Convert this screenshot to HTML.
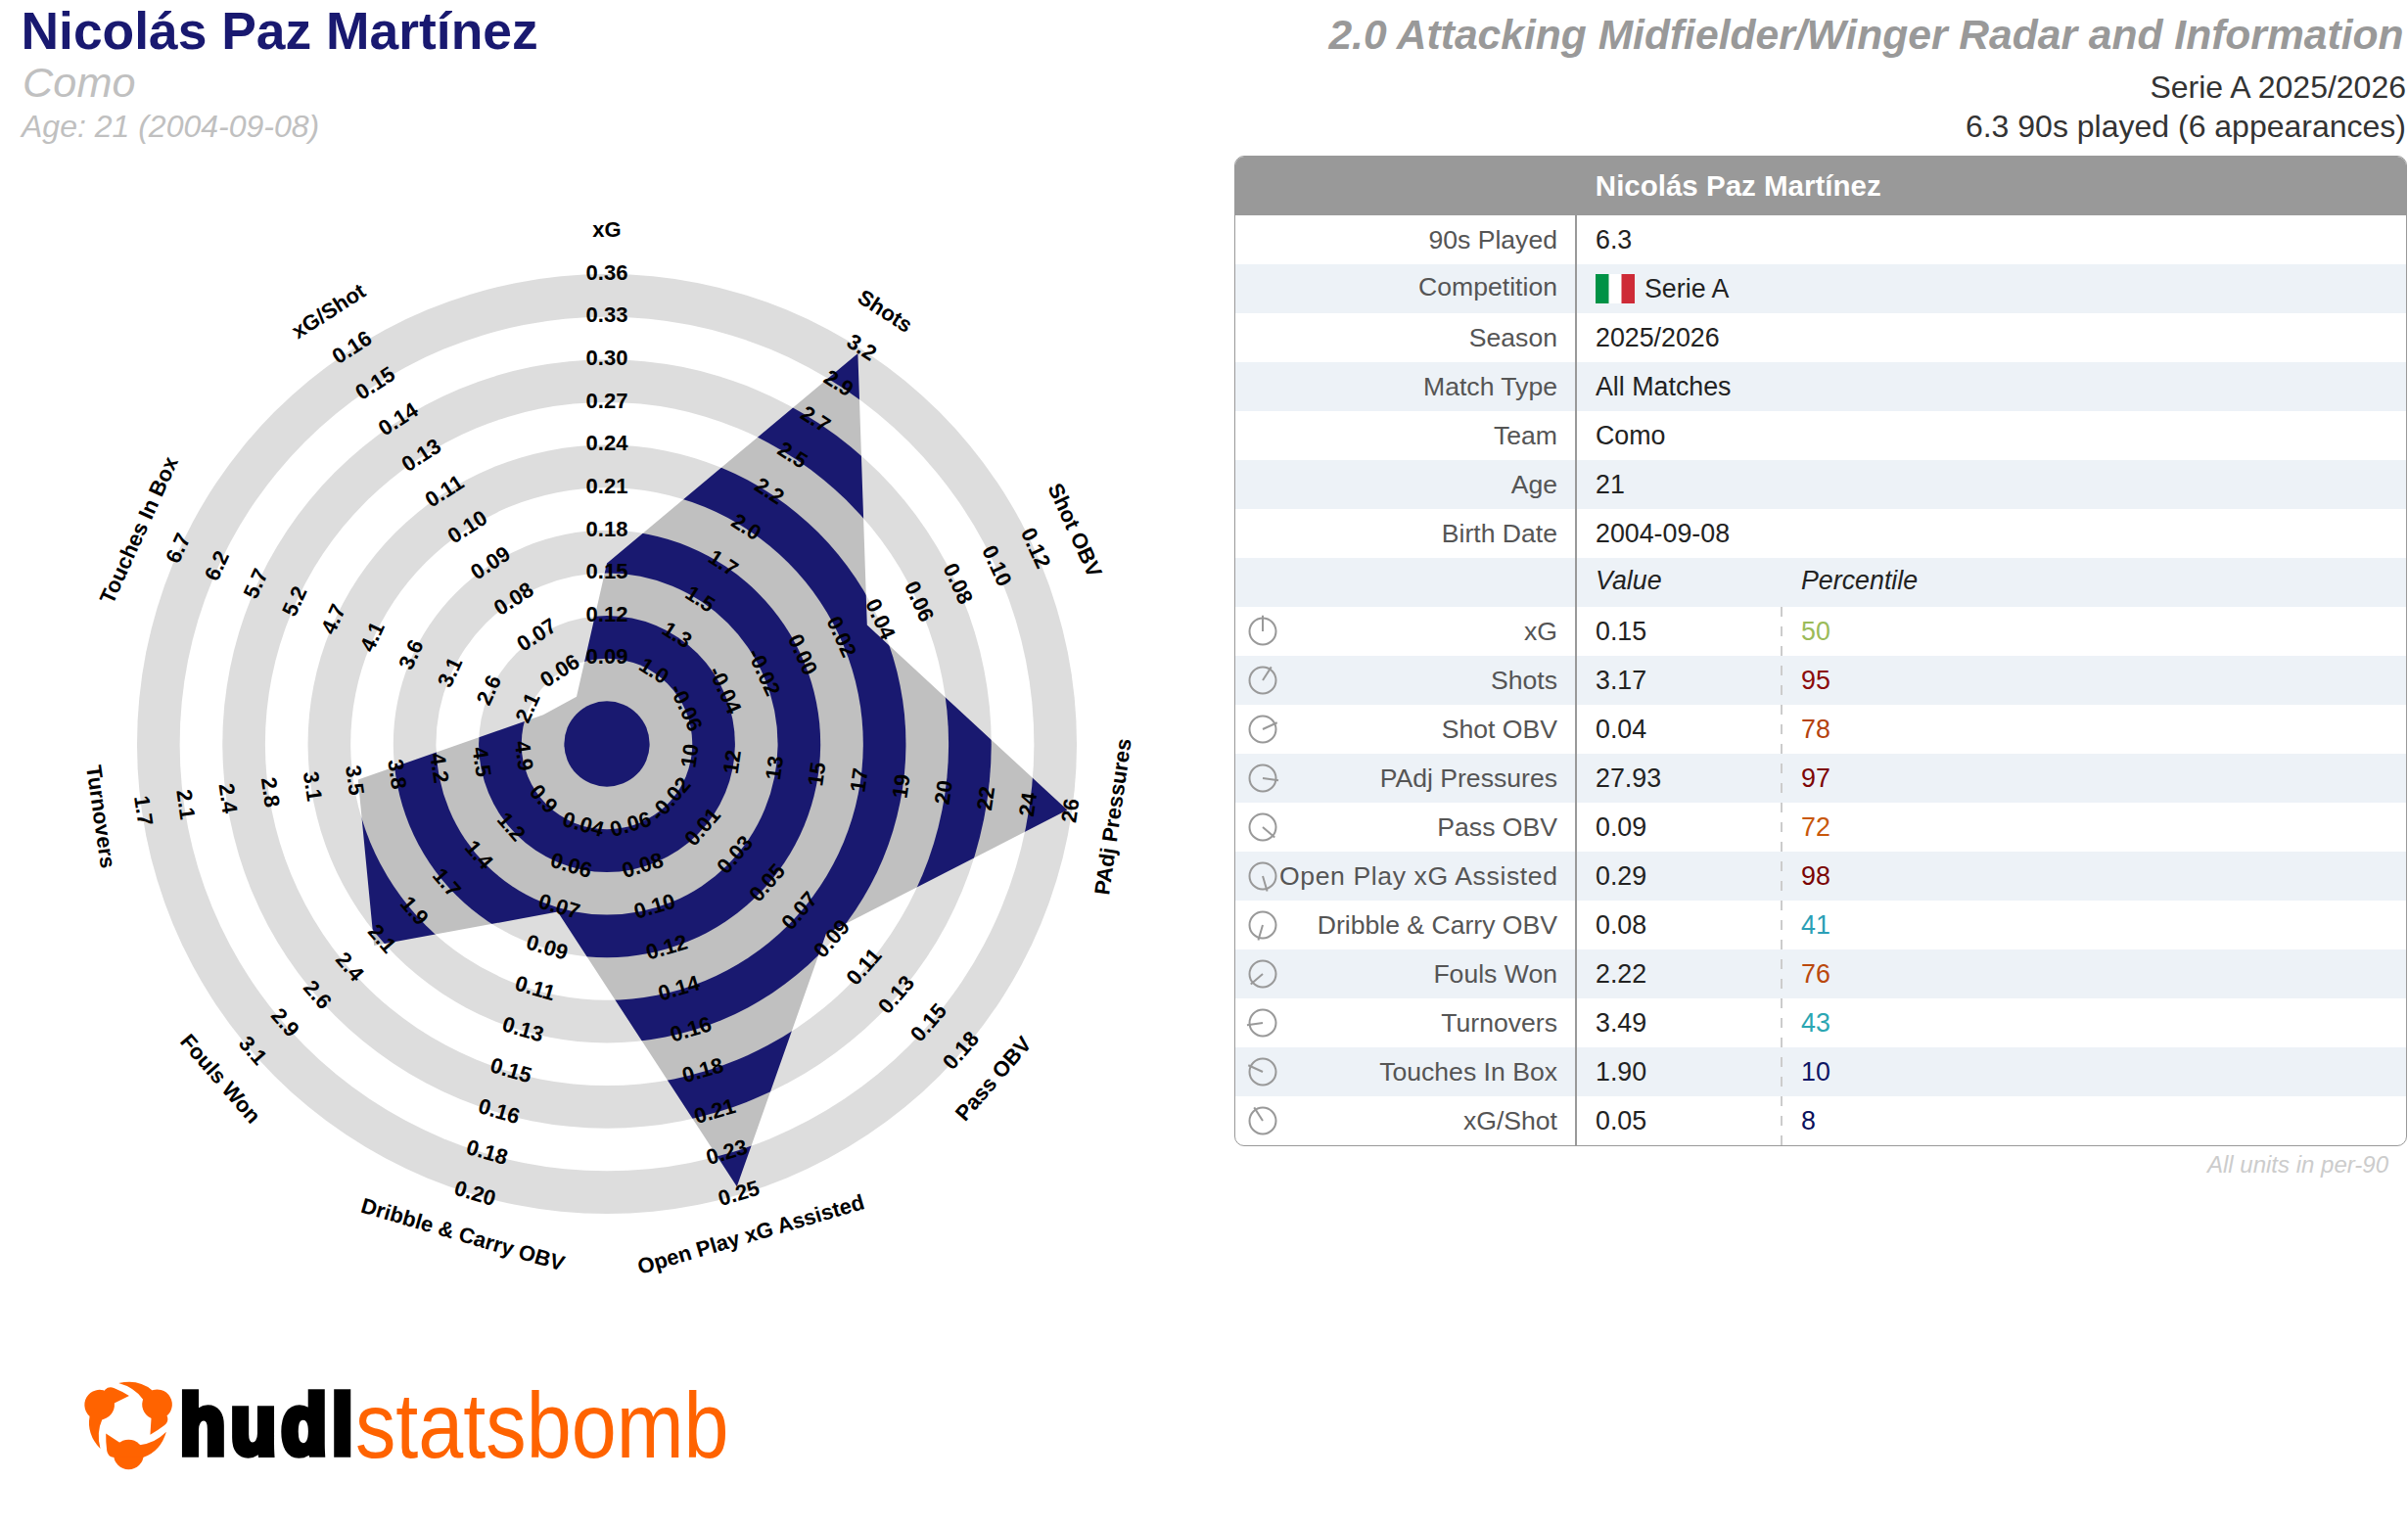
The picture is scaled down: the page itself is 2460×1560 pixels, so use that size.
<!DOCTYPE html>
<html lang="en"><head><meta charset="utf-8"><title>Nicolás Paz Martínez – Radar</title>
<style>
html,body{margin:0;padding:0;background:#fff;}
body{width:2460px;height:1560px;position:relative;overflow:hidden;font-family:"Liberation Sans",sans-serif;color:#222;}
.abs{position:absolute;white-space:nowrap;line-height:1;}
.name{left:21.5px;top:0;font-size:54px;font-weight:bold;color:#191970;}
.team{left:23px;top:0;font-size:40.5px;font-style:italic;color:#c0c0c0;}
.age{left:22px;top:0;font-size:30px;font-style:italic;color:#c0c0c0;}
.rt{right:2px;text-align:right;}
.title{font-size:43px;font-weight:bold;font-style:italic;color:#999;}
.sub{font-size:32px;color:#333;}
svg.radar{position:absolute;left:0;top:0;overflow:visible;}
svg.radar text{font-family:"Liberation Sans",sans-serif;}
svg.logo{position:absolute;left:60px;top:1380px;overflow:visible;}
svg.logo text{font-family:"Liberation Sans",sans-serif;}
.tablewrap{position:absolute;left:1261px;top:159px;width:1198px;height:1012px;box-sizing:border-box;border:1px solid #999;border-radius:10px;overflow:hidden;background:#fff;}
table.info{border-collapse:separate;border-spacing:0;width:1196px;table-layout:fixed;font-size:26.8px;}
table.info th{height:60px;background:#999;color:#fff;font-size:29.5px;font-weight:bold;text-align:left;padding:0;}
table.info th span{display:block;width:1027.5px;text-align:center;position:relative;top:0.3px;}
table.info td{height:50px;padding:0;vertical-align:top;white-space:nowrap;line-height:50px;overflow:visible;}
table.info td.v,table.info td.p{padding-bottom:0;}
tr.alt td{background:#edf2f7;}
td.ic{width:56px;text-align:center;}
td.ic svg{display:block;margin:7.7px 0 0 10.7px;}
td.k{text-align:right;color:#555;padding-right:18px !important;}
td.k div{display:flex;justify-content:flex-end;white-space:nowrap;font-size:26.6px;}
td.v{padding-left:21px !important;}
td.p{padding-left:21px !important;}
.vline{position:absolute;left:347px;top:60px;width:2px;height:952px;background:#999;}
.dline{position:absolute;left:557px;top:460px;width:2px;height:552px;background:repeating-linear-gradient(to bottom,#ccc 0,#ccc 10px,transparent 10px,transparent 20px);}
i.up{position:relative;top:-2.3px;}
.flag{vertical-align:-6px;margin-right:10px;}
.note{right:20px;font-size:24.3px;font-style:italic;color:#ccc;}
</style></head><body>
<div class="abs name" style="top:4.7px;font-size:53.4px;line-height:53.4px;">Nicolás Paz Martínez</div>
<div class="abs team" style="top:63.3px;font-size:43.2px;line-height:43.2px;letter-spacing:0.1px;">Como</div>
<div class="abs age" style="top:112.7px;font-size:32px;line-height:32px;">Age: 21 (2004-09-08)</div>
<div class="abs rt title" style="top:13.8px;font-size:42.58px;line-height:42.58px;right:4.5px;">2.0 Attacking Midfielder/Winger Radar and Information</div>
<div class="abs rt sub" style="top:72.5px;font-size:32px;line-height:32px;">Serie A 2025/2026</div>
<div class="abs rt sub" style="top:112.8px;font-size:32px;line-height:32px;">6.3 90s played (6 appearances)</div>
<svg class="radar" width="1240" height="1360" viewBox="0 0 1240 1360">
<defs><mask id="poly" maskUnits="userSpaceOnUse" x="0" y="0" width="1240" height="1360"><polygon points="620.0,575.5 876.4,361.1 885.8,638.6 1090.4,827.6 843.9,954.0 752.8,1212.3 569.7,931.5 382.2,966.1 365.8,796.5 555.0,730.3 589.0,711.8" fill="#fff"/></mask></defs>
<g class="rings"><circle cx="620" cy="760" r="480.00" fill="#dddddd"/><circle cx="620" cy="760" r="436.36" fill="#ffffff"/><circle cx="620" cy="760" r="392.73" fill="#dddddd"/><circle cx="620" cy="760" r="349.09" fill="#ffffff"/><circle cx="620" cy="760" r="305.45" fill="#dddddd"/><circle cx="620" cy="760" r="261.82" fill="#ffffff"/><circle cx="620" cy="760" r="218.18" fill="#dddddd"/><circle cx="620" cy="760" r="174.55" fill="#ffffff"/><circle cx="620" cy="760" r="130.91" fill="#dddddd"/><circle cx="620" cy="760" r="87.27" fill="#ffffff"/><circle cx="620" cy="760" r="43.64" fill="#dddddd"/></g>
<g class="player" mask="url(#poly)"><circle cx="620" cy="760" r="480.00" fill="#191970"/><circle cx="620" cy="760" r="436.36" fill="#c0c0c0"/><circle cx="620" cy="760" r="392.73" fill="#191970"/><circle cx="620" cy="760" r="349.09" fill="#c0c0c0"/><circle cx="620" cy="760" r="305.45" fill="#191970"/><circle cx="620" cy="760" r="261.82" fill="#c0c0c0"/><circle cx="620" cy="760" r="218.18" fill="#191970"/><circle cx="620" cy="760" r="174.55" fill="#c0c0c0"/><circle cx="620" cy="760" r="130.91" fill="#191970"/><circle cx="620" cy="760" r="87.27" fill="#c0c0c0"/><circle cx="620" cy="760" r="43.64" fill="#191970"/></g>
<g class="lab" font-size="22" font-weight="bold" text-anchor="middle" fill="#000"><text transform="translate(620.0,672.7) rotate(0.00)" dy="0.26em">0.09</text>
<text transform="translate(620.0,629.1) rotate(0.00)" dy="0.26em">0.12</text>
<text transform="translate(620.0,585.5) rotate(0.00)" dy="0.26em">0.15</text>
<text transform="translate(620.0,541.8) rotate(0.00)" dy="0.26em">0.18</text>
<text transform="translate(620.0,498.2) rotate(0.00)" dy="0.26em">0.21</text>
<text transform="translate(620.0,454.5) rotate(0.00)" dy="0.26em">0.24</text>
<text transform="translate(620.0,410.9) rotate(0.00)" dy="0.26em">0.27</text>
<text transform="translate(620.0,367.3) rotate(0.00)" dy="0.26em">0.30</text>
<text transform="translate(620.0,323.6) rotate(0.00)" dy="0.26em">0.33</text>
<text transform="translate(620.0,280.0) rotate(0.00)" dy="0.26em">0.36</text>
<text class="axt" transform="translate(620.0,236.0) rotate(0.00)" dy="0.26em">xG</text>
<text transform="translate(667.2,686.6) rotate(32.73)" dy="0.26em">1.0</text>
<text transform="translate(690.8,649.9) rotate(32.73)" dy="0.26em">1.3</text>
<text transform="translate(714.4,613.2) rotate(32.73)" dy="0.26em">1.5</text>
<text transform="translate(738.0,576.5) rotate(32.73)" dy="0.26em">1.7</text>
<text transform="translate(761.5,539.7) rotate(32.73)" dy="0.26em">2.0</text>
<text transform="translate(785.1,503.0) rotate(32.73)" dy="0.26em">2.2</text>
<text transform="translate(808.7,466.3) rotate(32.73)" dy="0.26em">2.5</text>
<text transform="translate(832.3,429.6) rotate(32.73)" dy="0.26em">2.7</text>
<text transform="translate(855.9,392.9) rotate(32.73)" dy="0.26em">2.9</text>
<text transform="translate(879.5,356.2) rotate(32.73)" dy="0.26em">3.2</text>
<text class="axt" transform="translate(903.3,319.2) rotate(32.73)" dy="0.26em">Shots</text>
<text transform="translate(699.4,723.7) rotate(65.45)" dy="0.26em">-0.06</text>
<text transform="translate(739.1,705.6) rotate(65.45)" dy="0.26em">-0.04</text>
<text transform="translate(778.8,687.5) rotate(65.45)" dy="0.26em">-0.02</text>
<text transform="translate(818.5,669.4) rotate(65.45)" dy="0.26em">0.00</text>
<text transform="translate(858.2,651.2) rotate(65.45)" dy="0.26em">0.02</text>
<text transform="translate(897.9,633.1) rotate(65.45)" dy="0.26em">0.04</text>
<text transform="translate(937.5,615.0) rotate(65.45)" dy="0.26em">0.06</text>
<text transform="translate(977.2,596.9) rotate(65.45)" dy="0.26em">0.08</text>
<text transform="translate(1016.9,578.7) rotate(65.45)" dy="0.26em">0.10</text>
<text transform="translate(1056.6,560.6) rotate(65.45)" dy="0.26em">0.12</text>
<text class="axt" transform="translate(1096.6,542.3) rotate(65.45)" dy="0.26em">Shot OBV</text>
<text transform="translate(706.4,772.4) rotate(-81.82)" dy="0.26em">10</text>
<text transform="translate(749.6,778.6) rotate(-81.82)" dy="0.26em">12</text>
<text transform="translate(792.8,784.8) rotate(-81.82)" dy="0.26em">13</text>
<text transform="translate(836.0,791.1) rotate(-81.82)" dy="0.26em">15</text>
<text transform="translate(879.2,797.3) rotate(-81.82)" dy="0.26em">17</text>
<text transform="translate(922.3,803.5) rotate(-81.82)" dy="0.26em">19</text>
<text transform="translate(965.5,809.7) rotate(-81.82)" dy="0.26em">20</text>
<text transform="translate(1008.7,815.9) rotate(-81.82)" dy="0.26em">22</text>
<text transform="translate(1051.9,822.1) rotate(-81.82)" dy="0.26em">24</text>
<text transform="translate(1095.1,828.3) rotate(-81.82)" dy="0.26em">26</text>
<text class="axt" transform="translate(1138.7,834.6) rotate(-81.82)" dy="0.26em">PAdj Pressures</text>
<text transform="translate(686.0,817.2) rotate(-49.09)" dy="0.26em">-0.02</text>
<text transform="translate(718.9,845.7) rotate(-49.09)" dy="0.26em">0.01</text>
<text transform="translate(751.9,874.3) rotate(-49.09)" dy="0.26em">0.03</text>
<text transform="translate(784.9,902.9) rotate(-49.09)" dy="0.26em">0.05</text>
<text transform="translate(817.9,931.5) rotate(-49.09)" dy="0.26em">0.07</text>
<text transform="translate(850.8,960.0) rotate(-49.09)" dy="0.26em">0.09</text>
<text transform="translate(883.8,988.6) rotate(-49.09)" dy="0.26em">0.11</text>
<text transform="translate(916.8,1017.2) rotate(-49.09)" dy="0.26em">0.13</text>
<text transform="translate(949.8,1045.8) rotate(-49.09)" dy="0.26em">0.15</text>
<text transform="translate(982.8,1074.3) rotate(-49.09)" dy="0.26em">0.18</text>
<text class="axt" transform="translate(1016.0,1103.1) rotate(-49.09)" dy="0.26em">Pass OBV</text>
<text transform="translate(644.6,843.7) rotate(-16.36)" dy="0.26em">0.06</text>
<text transform="translate(656.9,885.6) rotate(-16.36)" dy="0.26em">0.08</text>
<text transform="translate(669.2,927.5) rotate(-16.36)" dy="0.26em">0.10</text>
<text transform="translate(681.5,969.3) rotate(-16.36)" dy="0.26em">0.12</text>
<text transform="translate(693.8,1011.2) rotate(-16.36)" dy="0.26em">0.14</text>
<text transform="translate(706.1,1053.1) rotate(-16.36)" dy="0.26em">0.16</text>
<text transform="translate(718.4,1095.0) rotate(-16.36)" dy="0.26em">0.18</text>
<text transform="translate(730.6,1136.8) rotate(-16.36)" dy="0.26em">0.21</text>
<text transform="translate(742.9,1178.7) rotate(-16.36)" dy="0.26em">0.23</text>
<text transform="translate(755.2,1220.6) rotate(-16.36)" dy="0.26em">0.25</text>
<text class="axt" transform="translate(767.6,1262.8) rotate(-16.36)" dy="0.26em">Open Play xG Assisted</text>
<text transform="translate(595.4,843.7) rotate(16.36)" dy="0.26em">0.04</text>
<text transform="translate(583.1,885.6) rotate(16.36)" dy="0.26em">0.06</text>
<text transform="translate(570.8,927.5) rotate(16.36)" dy="0.26em">0.07</text>
<text transform="translate(558.5,969.3) rotate(16.36)" dy="0.26em">0.09</text>
<text transform="translate(546.2,1011.2) rotate(16.36)" dy="0.26em">0.11</text>
<text transform="translate(533.9,1053.1) rotate(16.36)" dy="0.26em">0.13</text>
<text transform="translate(521.6,1095.0) rotate(16.36)" dy="0.26em">0.15</text>
<text transform="translate(509.4,1136.8) rotate(16.36)" dy="0.26em">0.16</text>
<text transform="translate(497.1,1178.7) rotate(16.36)" dy="0.26em">0.18</text>
<text transform="translate(484.8,1220.6) rotate(16.36)" dy="0.26em">0.20</text>
<text class="axt" transform="translate(472.4,1262.8) rotate(16.36)" dy="0.26em">Dribble &amp; Carry OBV</text>
<text transform="translate(554.0,817.2) rotate(49.09)" dy="0.26em">0.9</text>
<text transform="translate(521.1,845.7) rotate(49.09)" dy="0.26em">1.2</text>
<text transform="translate(488.1,874.3) rotate(49.09)" dy="0.26em">1.4</text>
<text transform="translate(455.1,902.9) rotate(49.09)" dy="0.26em">1.7</text>
<text transform="translate(422.1,931.5) rotate(49.09)" dy="0.26em">1.9</text>
<text transform="translate(389.2,960.0) rotate(49.09)" dy="0.26em">2.1</text>
<text transform="translate(356.2,988.6) rotate(49.09)" dy="0.26em">2.4</text>
<text transform="translate(323.2,1017.2) rotate(49.09)" dy="0.26em">2.6</text>
<text transform="translate(290.2,1045.8) rotate(49.09)" dy="0.26em">2.9</text>
<text transform="translate(257.2,1074.3) rotate(49.09)" dy="0.26em">3.1</text>
<text class="axt" transform="translate(224.0,1103.1) rotate(49.09)" dy="0.26em">Fouls Won</text>
<text transform="translate(533.6,772.4) rotate(81.82)" dy="0.26em">4.9</text>
<text transform="translate(490.4,778.6) rotate(81.82)" dy="0.26em">4.5</text>
<text transform="translate(447.2,784.8) rotate(81.82)" dy="0.26em">4.2</text>
<text transform="translate(404.0,791.1) rotate(81.82)" dy="0.26em">3.8</text>
<text transform="translate(360.8,797.3) rotate(81.82)" dy="0.26em">3.5</text>
<text transform="translate(317.7,803.5) rotate(81.82)" dy="0.26em">3.1</text>
<text transform="translate(274.5,809.7) rotate(81.82)" dy="0.26em">2.8</text>
<text transform="translate(231.3,815.9) rotate(81.82)" dy="0.26em">2.4</text>
<text transform="translate(188.1,822.1) rotate(81.82)" dy="0.26em">2.1</text>
<text transform="translate(144.9,828.3) rotate(81.82)" dy="0.26em">1.7</text>
<text class="axt" transform="translate(101.3,834.6) rotate(81.82)" dy="0.26em">Turnovers</text>
<text transform="translate(540.6,723.7) rotate(294.55)" dy="0.26em">2.1</text>
<text transform="translate(500.9,705.6) rotate(294.55)" dy="0.26em">2.6</text>
<text transform="translate(461.2,687.5) rotate(294.55)" dy="0.26em">3.1</text>
<text transform="translate(421.5,669.4) rotate(294.55)" dy="0.26em">3.6</text>
<text transform="translate(381.8,651.2) rotate(294.55)" dy="0.26em">4.1</text>
<text transform="translate(342.1,633.1) rotate(294.55)" dy="0.26em">4.7</text>
<text transform="translate(302.5,615.0) rotate(294.55)" dy="0.26em">5.2</text>
<text transform="translate(262.8,596.9) rotate(294.55)" dy="0.26em">5.7</text>
<text transform="translate(223.1,578.7) rotate(294.55)" dy="0.26em">6.2</text>
<text transform="translate(183.4,560.6) rotate(294.55)" dy="0.26em">6.7</text>
<text class="axt" transform="translate(143.4,542.3) rotate(294.55)" dy="0.26em">Touches In Box</text>
<text transform="translate(572.8,686.6) rotate(327.27)" dy="0.26em">0.06</text>
<text transform="translate(549.2,649.9) rotate(327.27)" dy="0.26em">0.07</text>
<text transform="translate(525.6,613.2) rotate(327.27)" dy="0.26em">0.08</text>
<text transform="translate(502.0,576.5) rotate(327.27)" dy="0.26em">0.09</text>
<text transform="translate(478.5,539.7) rotate(327.27)" dy="0.26em">0.10</text>
<text transform="translate(454.9,503.0) rotate(327.27)" dy="0.26em">0.11</text>
<text transform="translate(431.3,466.3) rotate(327.27)" dy="0.26em">0.13</text>
<text transform="translate(407.7,429.6) rotate(327.27)" dy="0.26em">0.14</text>
<text transform="translate(384.1,392.9) rotate(327.27)" dy="0.26em">0.15</text>
<text transform="translate(360.5,356.2) rotate(327.27)" dy="0.26em">0.16</text>
<text class="axt" transform="translate(336.7,319.2) rotate(327.27)" dy="0.26em">xG/Shot</text></g>
</svg>
<div class="tablewrap"><table class="info" cellspacing="0" cellpadding="0"><colgroup><col style="width:56px"><col style="width:291px"><col style="width:210px"><col></colgroup><thead><tr><th colspan="4"><span>Nicolás Paz Martínez</span></th></tr></thead><tbody><tr class=""><td class="ic"></td><td class="k"><div>90s Played</div></td><td class="v" colspan="2">6.3</td></tr>
<tr class="alt"><td class="ic"></td><td class="k"><div><span style="position:relative;top:-2.4px">Competition</span></div></td><td class="v" colspan="2"><svg class="flag" width="40" height="30" viewBox="0 0 40 30"><rect width="14" height="30" fill="#009246"/><rect x="13.5" width="13.5" height="30" fill="#fff"/><rect x="26.5" width="13.5" height="30" fill="#ce2b37"/></svg><span class="comp">Serie A</span></td></tr>
<tr class=""><td class="ic"></td><td class="k"><div>Season</div></td><td class="v" colspan="2">2025/2026</td></tr>
<tr class="alt"><td class="ic"></td><td class="k"><div>Match Type</div></td><td class="v" colspan="2">All Matches</td></tr>
<tr class=""><td class="ic"></td><td class="k"><div>Team</div></td><td class="v" colspan="2">Como</td></tr>
<tr class="alt"><td class="ic"></td><td class="k"><div>Age</div></td><td class="v" colspan="2">21</td></tr>
<tr class=""><td class="ic"></td><td class="k"><div>Birth Date</div></td><td class="v" colspan="2">2004-09-08</td></tr>
<tr class="alt hd"><td class="ic"></td><td class="k"></td><td class="v"><i class="up">Value</i></td><td class="p nb"><i class="up">Percentile</i></td></tr>
<tr class=""><td class="ic"><svg width="34" height="34" viewBox="-1 -1 34 34"><circle cx="16" cy="16" r="13.5" fill="none" stroke="#999" stroke-width="2"/><line x1="16" y1="16" x2="16.00" y2="-0.20" stroke="#999" stroke-width="2"/></svg></td><td class="k"><div>xG</div></td><td class="v">0.15</td><td class="p" style="color:#9bbb59">50</td></tr>
<tr class="alt"><td class="ic"><svg width="34" height="34" viewBox="-1 -1 34 34"><circle cx="16" cy="16" r="13.5" fill="none" stroke="#999" stroke-width="2"/><line x1="16" y1="16" x2="24.76" y2="2.37" stroke="#999" stroke-width="2"/></svg></td><td class="k"><div>Shots</div></td><td class="v">3.17</td><td class="p" style="color:#8b0a0a">95</td></tr>
<tr class=""><td class="ic"><svg width="34" height="34" viewBox="-1 -1 34 34"><circle cx="16" cy="16" r="13.5" fill="none" stroke="#999" stroke-width="2"/><line x1="16" y1="16" x2="30.74" y2="9.27" stroke="#999" stroke-width="2"/></svg></td><td class="k"><div>Shot OBV</div></td><td class="v">0.04</td><td class="p" style="color:#b5420d">78</td></tr>
<tr class="alt"><td class="ic"><svg width="34" height="34" viewBox="-1 -1 34 34"><circle cx="16" cy="16" r="13.5" fill="none" stroke="#999" stroke-width="2"/><line x1="16" y1="16" x2="32.04" y2="18.31" stroke="#999" stroke-width="2"/></svg></td><td class="k"><div>PAdj Pressures</div></td><td class="v">27.93</td><td class="p" style="color:#7d0505">97</td></tr>
<tr class=""><td class="ic"><svg width="34" height="34" viewBox="-1 -1 34 34"><circle cx="16" cy="16" r="13.5" fill="none" stroke="#999" stroke-width="2"/><line x1="16" y1="16" x2="28.24" y2="26.61" stroke="#999" stroke-width="2"/></svg></td><td class="k"><div>Pass OBV</div></td><td class="v">0.09</td><td class="p" style="color:#c8570a">72</td></tr>
<tr class="alt"><td class="ic"><svg width="34" height="34" viewBox="-1 -1 34 34"><circle cx="16" cy="16" r="13.5" fill="none" stroke="#999" stroke-width="2"/><line x1="16" y1="16" x2="20.56" y2="31.54" stroke="#999" stroke-width="2"/></svg></td><td class="k"><div><span style="letter-spacing:0.6px;margin-right:-0.6px">Open Play xG Assisted</span></div></td><td class="v">0.29</td><td class="p" style="color:#7a0303">98</td></tr>
<tr class=""><td class="ic"><svg width="34" height="34" viewBox="-1 -1 34 34"><circle cx="16" cy="16" r="13.5" fill="none" stroke="#999" stroke-width="2"/><line x1="16" y1="16" x2="11.44" y2="31.54" stroke="#999" stroke-width="2"/></svg></td><td class="k"><div>Dribble &amp; Carry OBV</div></td><td class="v">0.08</td><td class="p" style="color:#2b9fb6">41</td></tr>
<tr class="alt"><td class="ic"><svg width="34" height="34" viewBox="-1 -1 34 34"><circle cx="16" cy="16" r="13.5" fill="none" stroke="#999" stroke-width="2"/><line x1="16" y1="16" x2="3.76" y2="26.61" stroke="#999" stroke-width="2"/></svg></td><td class="k"><div>Fouls Won</div></td><td class="v">2.22</td><td class="p" style="color:#ba480c">76</td></tr>
<tr class=""><td class="ic"><svg width="34" height="34" viewBox="-1 -1 34 34"><circle cx="16" cy="16" r="13.5" fill="none" stroke="#999" stroke-width="2"/><line x1="16" y1="16" x2="-0.04" y2="18.31" stroke="#999" stroke-width="2"/></svg></td><td class="k"><div>Turnovers</div></td><td class="v">3.49</td><td class="p" style="color:#2ba6b2">43</td></tr>
<tr class="alt"><td class="ic"><svg width="34" height="34" viewBox="-1 -1 34 34"><circle cx="16" cy="16" r="13.5" fill="none" stroke="#999" stroke-width="2"/><line x1="16" y1="16" x2="1.26" y2="9.27" stroke="#999" stroke-width="2"/></svg></td><td class="k"><div>Touches In Box</div></td><td class="v">1.90</td><td class="p" style="color:#0d1565">10</td></tr>
<tr class=""><td class="ic"><svg width="34" height="34" viewBox="-1 -1 34 34"><circle cx="16" cy="16" r="13.5" fill="none" stroke="#999" stroke-width="2"/><line x1="16" y1="16" x2="7.24" y2="2.37" stroke="#999" stroke-width="2"/></svg></td><td class="k"><div>xG/Shot</div></td><td class="v">0.05</td><td class="p" style="color:#0a105c">8</td></tr></tbody></table><div class="vline"></div><div class="dline"></div></div>
<div class="abs note" style="top:1177.7px;font-size:24px;line-height:24px;">All units in per-90</div>
<svg class="logo" width="760" height="160" viewBox="0 0 760 160">
<g transform="translate(71.2,72)" fill="#ff6300"><g><circle cx="0.2" cy="34" r="15.3"/><path d="M-23,12.4 L-8.9,21.8 L11.5,24.2 Q27,22.6 38.7,10.8 Q33,30.5 15.5,36.8 L-16,36.8 Q-21.2,35.3 -22,29.9 Q-23.2,21 -23,12.4Z"/></g><g transform="rotate(-120)"><circle cx="0.2" cy="34" r="15.3"/><path d="M-23,12.4 L-8.9,21.8 L11.5,24.2 Q27,22.6 38.7,10.8 Q33,30.5 15.5,36.8 L-16,36.8 Q-21.2,35.3 -22,29.9 Q-23.2,21 -23,12.4Z"/></g><g transform="rotate(120)"><circle cx="0.2" cy="34" r="15.3"/><path d="M-23,12.4 L-8.9,21.8 L11.5,24.2 Q27,22.6 38.7,10.8 Q33,30.5 15.5,36.8 L-16,36.8 Q-21.2,35.3 -22,29.9 Q-23.2,21 -23,12.4Z"/></g></g>
<text class="hudl" transform="translate(123.9,105.25) scale(0.89,1)" font-size="85" font-weight="bold" letter-spacing="6.3" fill="#000" stroke="#000" stroke-width="7.5" stroke-linejoin="miter">hudl</text>
<text class="sb" transform="translate(303,109) scale(0.88,1)" font-size="94" fill="#ff6300">statsbomb</text>
</svg>
</body></html>
